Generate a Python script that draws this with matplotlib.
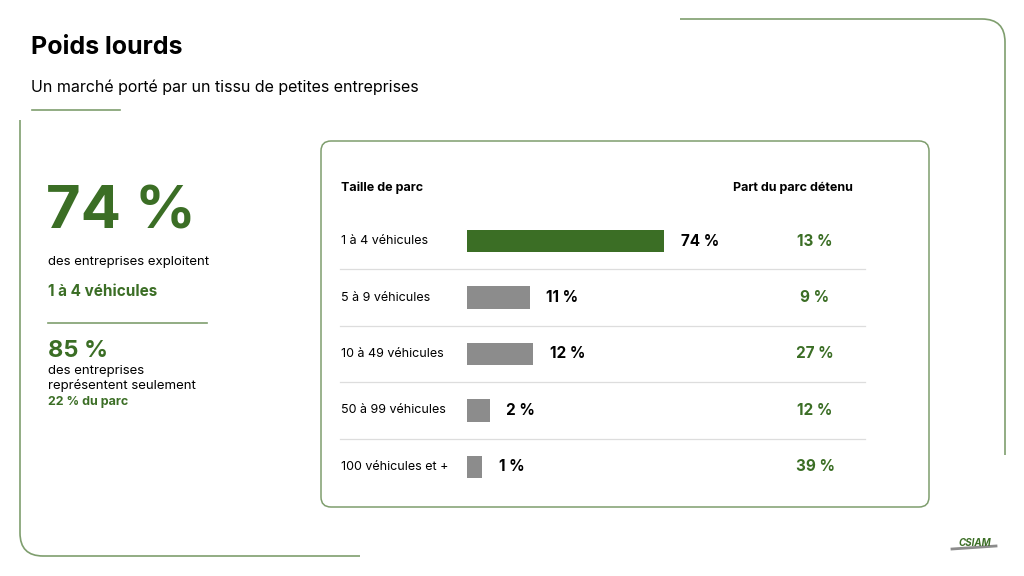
import matplotlib.pyplot as plt
import numpy as np
from matplotlib.patches import FancyBboxPatch
from matplotlib.path import Path
from matplotlib.patches import PathPatch

plt.rcParams['font.family'] = ['Inter', 'DejaVu Sans']

categories = ["1 à 4 véhicules", "5 à 9 véhicules", "10 à 49 véhicules",
              "50 à 99 véhicules", "100 véhicules et +"]
share_firms = [74, 11, 12, 2, 1]
share_fleet = [13, 9, 27, 12, 39]

GREEN = '#3b6e25'
LINE = '#7f9e6e'
GREY = '#8c8c8c'

fig = plt.figure(figsize=(10.24, 5.76), dpi=100)
bg = fig.add_axes([0, 0, 1, 1])
bg.set_xlim(0, 1024)
bg.set_ylim(576, 0)
bg.axis('off')

# decorative frame lines
def rounded(points):
    p = Path(points, [Path.MOVETO, Path.LINETO, Path.CURVE3, Path.CURVE3, Path.LINETO])
    bg.add_patch(PathPatch(p, fill=False, ec=LINE, lw=1.2))

rounded([(680, 19), (982, 19), (1005, 19), (1005, 42), (1005, 455)])
rounded([(20, 120), (20, 533), (20, 556), (43, 556), (360, 556)])
bg.plot([32, 120], [110, 110], color=LINE, lw=1.2)
bg.plot([48, 207], [323, 323], color=LINE, lw=1.2)

bg.text(31, 47, "Poids lourds", fontsize=18, fontweight='bold', va='center')
bg.text(31, 87, "Un marché porté par un tissu de petites entreprises", fontsize=11.5, va='center')

# left key figures
bg.text(46, 213, "74 %", fontsize=43, fontweight='bold', color=GREEN, va='center')
bg.text(48, 262, "des entreprises exploitent", fontsize=9.5, va='center')
bg.text(48, 291, "1 à 4 véhicules", fontsize=11, fontweight='bold', color=GREEN, va='center')
bg.text(48, 351, "85 %", fontsize=17, fontweight='bold', color=GREEN, va='center')
bg.text(48, 371, "des entreprises", fontsize=9.5, va='center')
bg.text(48, 386, "représentent seulement", fontsize=9.5, va='center')
bg.text(48, 402, "22 % du parc", fontsize=9, fontweight='bold', color=GREEN, va='center')

# panel
bg.add_patch(FancyBboxPatch((321, 141), 608, 366, boxstyle="round,pad=0,rounding_size=10",
                            fc='white', ec=LINE, lw=1.1))
bg.text(341, 188, "Taille de parc", fontsize=9, fontweight='bold', va='center')
bg.text(733, 188, "Part du parc détenu", fontsize=9, fontweight='bold', va='center')

# bar axes: rows mapped via index
x0, x1, ytop, ybot = 467, 664, 213, 495
ax = fig.add_axes([x0 / 1024, 1 - ybot / 576, (x1 - x0) / 1024, (ybot - ytop) / 576])
ax.set_xscale('function', functions=(lambda v: np.power(v, 0.6), lambda v: np.power(v, 1 / 0.6)))
ax.set_xlim(0, 74)
ax.set_ylim(len(categories) - 0.5, -0.5)
ax.axis('off')
ypos = np.arange(len(categories))
colors = [GREEN] + [GREY] * (len(categories) - 1)
ax.barh(ypos, share_firms, height=0.4, color=colors)
for y, v, c, f in zip(ypos, share_firms, categories, share_fleet):
    ax.annotate(f"{v} %", (v, y), xytext=(12, 0), textcoords='offset points',
                va='center', fontsize=11, fontweight='bold')
    ax.annotate(c, (0, y), xytext=(-126 * 0.72, 0), textcoords='offset points',
                va='center', fontsize=9, annotation_clip=False)
    ax.annotate(f"{f} %", (0, y), xytext=(348 * 0.72, 0), textcoords='offset points',
                va='center', ha='center', fontsize=11, fontweight='bold', color=GREEN,
                annotation_clip=False)
    if y < len(categories) - 1:
        bg.plot([340, 865], [ytop + (y + 1) * (ybot - ytop) / len(categories)] * 2,
                color='#dddddd', lw=0.9)

# logo
bg.text(975, 543, "CSIAM", fontsize=7, fontweight='bold', fontstyle='italic',
        color=GREEN, ha='center', va='center')
bg.plot([952, 996], [549, 546], color=GREY, lw=2)

fig.savefig("out.png", dpi=100)
